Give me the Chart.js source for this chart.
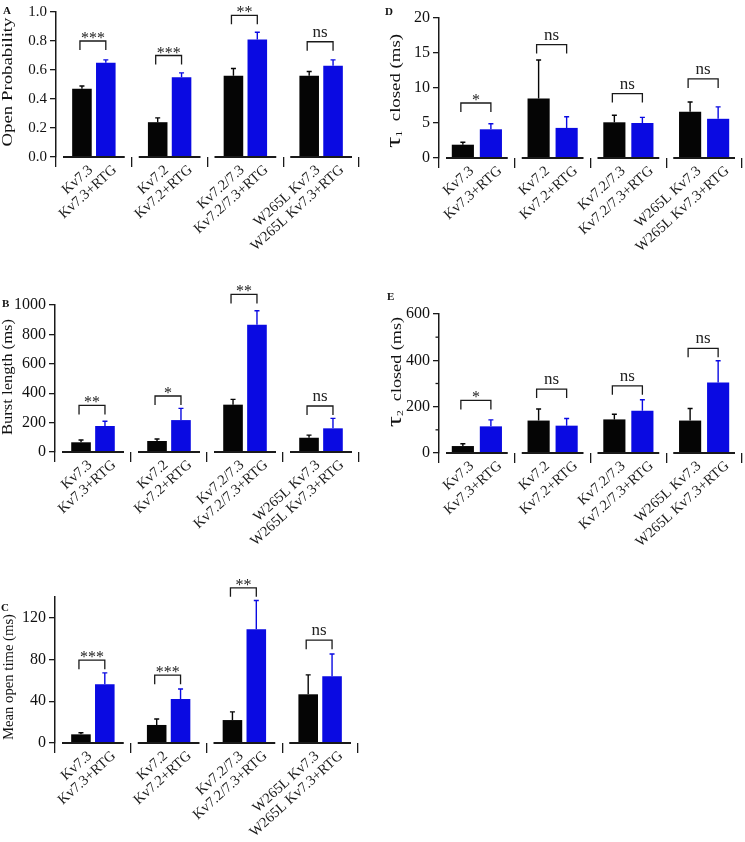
<!DOCTYPE html>
<html>
<head>
<meta charset="utf-8">
<script src="https://cdn.jsdelivr.net/npm/chart.js@4.4.1/dist/chart.umd.min.js"></script>
<style>
  body { margin: 0; background: #fff; width: 745px; height: 842px; position: relative; overflow: hidden; }
  .panel { position: absolute; }
  .letter { position: absolute; font: bold 11px 'Liberation Serif', serif; color: #111; }
</style>
</head>
<body>
<canvas id="pA" class="panel" width="370" height="270" style="left:0;top:0"></canvas>
<canvas id="pB" class="panel" width="370" height="280" style="left:0;top:270px"></canvas>
<canvas id="pC" class="panel" width="370" height="292" style="left:0;top:550px"></canvas>
<canvas id="pD" class="panel" width="375" height="270" style="left:370px;top:0"></canvas>
<canvas id="pE" class="panel" width="375" height="290" style="left:370px;top:270px"></canvas>
<div class="letter" style="left:3px;top:4px">A</div>
<div class="letter" style="left:2px;top:297px">B</div>
<div class="letter" style="left:1px;top:601px">C</div>
<div class="letter" style="left:385px;top:5px">D</div>
<div class="letter" style="left:387px;top:290px">E</div>
<script>
'use strict';

const groups = ['Kv7.3', 'Kv7.2', 'Kv7.2/7.3', 'W265L Kv7.3'];
const barLabels = [
  ['Kv7.3', 'Kv7.3+RTG'],
  ['Kv7.2', 'Kv7.2+RTG'],
  ['Kv7.2/7.3', 'Kv7.2/7.3+RTG'],
  ['W265L Kv7.3', 'W265L Kv7.3+RTG'],
];

// A - open probability
const openProb = [0.47, 0.24, 0.56, 0.56];
const openProbErr = [0.02, 0.03, 0.05, 0.03];
const openProbRtg = [0.65, 0.55, 0.81, 0.63];
const openProbRtgErr = [0.02, 0.03, 0.05, 0.04];
const openProbBracket = [0.80, 0.70, 0.977, 0.795];
const openProbSig = ['***', '***', '**', 'ns'];

// B - burst length (ms)
const burst = [66, 75, 322, 97];
const burstErr = [16, 13, 36, 18];
const burstRtg = [177, 217, 866, 161];
const burstRtgErr = [32, 80, 95, 68];
const burstBracket = [317, 381, 1072, 313];
const burstSig = ['**', '*', '**', 'ns'];

// C - mean open time (ms)
const openTime = [8.3, 17.3, 22, 46.7];
const openTimeErr = [1.6, 5.7, 7.8, 18.6];
const openTimeRtg = [56.3, 42.2, 109, 64];
const openTimeRtgErr = [10.9, 9.6, 27.6, 21.4];
const openTimeBracket = [79.4, 65, 148.8, 98.6];
const openTimeSig = ['***', '***', '**', 'ns'];

// D - tau1 closed (ms)
const tau1 = [1.9, 8.5, 5.1, 6.6];
const tau1Err = [0.35, 5.5, 1.0, 1.4];
const tau1Rtg = [4.1, 4.3, 5.0, 5.6];
const tau1RtgErr = [0.8, 1.6, 0.8, 1.7];
const tau1Bracket = [7.86, 16.2, 9.2, 11.3];
const tau1Sig = ['*', 'ns', 'ns', 'ns'];

// E - tau2 closed (ms)
const tau2 = [30, 140, 145, 140];
const tau2Err = [10, 50, 22, 52];
const tau2Rtg = [115, 118, 182, 304];
const tau2RtgErr = [28, 31, 48, 94];
const tau2Bracket = [227, 276, 290, 452];
const tau2Sig = ['*', 'ns', 'ns', 'ns'];

const AXIS = '#1a1a1a';
const BLACK = '#050505';
const BLUE = '#0a0ae2';
const SERIF = "'Liberation Serif', 'Times New Roman', serif";

function isMinor(v, major) {
  return Math.abs(v / major - Math.round(v / major)) > 1e-6;
}

// y title drawn by hand: the figure's lettering is stretched along the axis
function drawYTitle(ctx, p) {
  const parts = p.tau
    ? [['τ', 21], [p.tau, 9], ['  closed (ms)', 14]]
    : [[p.title, 14]];
  let total = 0;
  parts.forEach(([t, sz]) => {
    ctx.font = sz + 'px ' + SERIF;
    total += ctx.measureText(t).width;
  });
  const sx = p.titleLen / total;
  ctx.save();
  ctx.translate(p.titleX, p.titleY);
  ctx.rotate(-Math.PI / 2);
  ctx.scale(sx, 1);
  ctx.fillStyle = '#111';
  ctx.textAlign = 'left';
  ctx.textBaseline = 'alphabetic';
  let x = -total / 2;
  parts.forEach(([t, sz], k) => {
    ctx.font = sz + 'px ' + SERIF;
    const dy = (p.tau && k === 1) ? 2 : 0;
    ctx.fillText(t, x, 5 + dy);
    x += ctx.measureText(t).width;
  });
  ctx.restore();
}

// draws baselines, minor ticks, error bars, brackets and the rotated bar labels
function decorPlugin(p) {
  return {
    id: 'decor',
    afterDatasetsDraw(chart) {
      const ctx = chart.ctx;
      const xs = chart.scales.x;
      const ys = chart.scales.y;
      const m0 = chart.getDatasetMeta(0).data;
      const m1 = chart.getDatasetMeta(1).data;
      const y0 = ys.getPixelForValue(0);
      const half = (xs.getPixelForValue(1) - xs.getPixelForValue(0)) / 2;
      ctx.save();
      ctx.strokeStyle = AXIS;

      // group baselines
      ctx.lineWidth = 2;
      for (let i = 0; i < groups.length; i++) {
        const c = xs.getPixelForValue(i);
        ctx.beginPath();
        ctx.moveTo(c - half + 7, y0);
        ctx.lineTo(c + half - 7, y0);
        ctx.stroke();
      }

      // minor y ticks
      ctx.lineWidth = 1.3;
      ys.ticks.forEach(t => {
        if (isMinor(t.value, p.yMajor)) {
          const py = ys.getPixelForValue(t.value);
          ctx.beginPath();
          ctx.moveTo(ys.right - 3.5, py);
          ctx.lineTo(ys.right, py);
          ctx.stroke();
        }
      });

      // error bars (upper only)
      const sets = [[m0, p.ctrl, p.ctrlErr, BLACK], [m1, p.rtg, p.rtgErr, BLUE]];
      ctx.lineWidth = 1.4;
      sets.forEach(([meta, vals, errs, col]) => {
        ctx.strokeStyle = col;
        meta.forEach((bar, i) => {
          const top = ys.getPixelForValue(vals[i] + errs[i]);
          ctx.beginPath();
          ctx.moveTo(bar.x, bar.y);
          ctx.lineTo(bar.x, top);
          ctx.moveTo(bar.x - 2.5, top);
          ctx.lineTo(bar.x + 2.5, top);
          ctx.stroke();
        });
      });

      // significance brackets
      ctx.strokeStyle = AXIS;
      ctx.fillStyle = '#222';
      ctx.lineWidth = 1.3;
      ctx.textAlign = 'center';
      ctx.textBaseline = 'alphabetic';
      for (let i = 0; i < groups.length; i++) {
        const xl = m0[i].x - 2;
        const xr = m1[i].x;
        const yt = ys.getPixelForValue(p.bracket[i]);
        ctx.beginPath();
        ctx.moveTo(xl, yt + 9);
        ctx.lineTo(xl, yt);
        ctx.lineTo(xr, yt);
        ctx.lineTo(xr, yt + 9);
        ctx.stroke();
        const s = p.sig[i];
        if (s === 'ns') {
          ctx.font = '17px ' + SERIF;
          ctx.fillText(s, (xl + xr) / 2, yt - 5);
        } else {
          ctx.font = '16px ' + SERIF;
          ctx.fillText(s, (xl + xr) / 2, yt + 2);
        }
      }

      // rotated category labels, one under each bar
      ctx.fillStyle = '#1a1a1a';
      ctx.font = '14.5px ' + SERIF;
      ctx.textAlign = 'right';
      ctx.textBaseline = 'middle';
      for (let i = 0; i < groups.length; i++) {
        [m0[i], m1[i]].forEach((bar, k) => {
          ctx.save();
          ctx.translate(bar.x + 9, y0 + 11);
          ctx.rotate(-42 * Math.PI / 180);
          ctx.fillText(barLabels[i][k], 0, 0);
          ctx.restore();
        });
      }

      drawYTitle(ctx, p);
      ctx.restore();
    }
  };
}

function makePanel(id, p) {
  const canvas = document.getElementById(id);
  const W = canvas.width;
  const H = canvas.height;
  return new Chart(canvas, {
    type: 'bar',
    data: {
      labels: groups,
      datasets: [
        { data: p.ctrl, backgroundColor: BLACK, categoryPercentage: p.catPct, barPercentage: p.barPct },
        { data: p.rtg, backgroundColor: BLUE, categoryPercentage: p.catPct, barPercentage: p.barPct },
      ]
    },
    options: {
      responsive: false,
      animation: false,
      layout: {
        padding: { left: 0, top: p.area.top, right: W - p.area.right, bottom: 0 }
      },
      plugins: {
        legend: { display: false },
        tooltip: { enabled: false },
      },
      scales: {
        x: {
          ticks: { display: false },
          border: { display: false },
          grid: {
            display: true,
            drawOnChartArea: false,
            drawTicks: true,
            tickLength: 10,
            color: AXIS,
            lineWidth: 1.3,
          },
          afterFit: (s) => { s.height = H - p.area.bottom; },
        },
        y: {
          min: 0,
          max: p.yMax,
          ticks: {
            stepSize: p.yStep,
            color: '#111',
            padding: 3,
            font: { family: SERIF, size: p.tickSize },
            callback: (v) => {
              if (isMinor(v, p.yMajor)) return '';
              return p.decimals ? Number(v).toFixed(p.decimals) : v;
            },
          },
          grid: {
            drawOnChartArea: false,
            tickLength: 6,
            lineWidth: 1.3,
            tickColor: (c) => {
              const v = c.tick ? c.tick.value : 0;
              return isMinor(v, p.yMajor) ? 'rgba(0,0,0,0)' : AXIS;
            },
          },
          border: { display: true, color: AXIS, width: 1.5 },
          title: { display: false },
          afterFit: (s) => { s.width = p.area.left; },
        }
      }
    },
    plugins: [decorPlugin(p)]
  });
}

const narrow = { catPct: 0.63, barPct: 0.82 };
const wide = { catPct: 0.74, barPct: 0.79 };

makePanel('pA', Object.assign({
  ctrl: openProb, ctrlErr: openProbErr, rtg: openProbRtg, rtgErr: openProbRtgErr,
  bracket: openProbBracket, sig: openProbSig,
  yMax: 1, yStep: 0.2, yMajor: 0.2, decimals: 1, tickSize: 15,
  title: 'Open Probability', titleX: 7, titleY: 82, titleLen: 129,
  area: { left: 56, top: 10, right: 359, bottom: 157 },
}, narrow));

makePanel('pB', Object.assign({
  ctrl: burst, ctrlErr: burstErr, rtg: burstRtg, rtgErr: burstRtgErr,
  bracket: burstBracket, sig: burstSig,
  yMax: 1000, yStep: 200, yMajor: 200, decimals: 0, tickSize: 16,
  title: 'Burst length (ms)', titleX: 7, titleY: 107, titleLen: 116,
  area: { left: 55, top: 35, right: 359, bottom: 182 },
}, narrow));

makePanel('pC', Object.assign({
  ctrl: openTime, ctrlErr: openTimeErr, rtg: openTimeRtg, rtgErr: openTimeRtgErr,
  bracket: openTimeBracket, sig: openTimeSig,
  yMax: 140, yStep: 20, yMajor: 40, decimals: 0, tickSize: 16,
  title: 'Mean open time (ms)', titleX: 7.5, titleY: 127, titleLen: 126,
  area: { left: 55, top: 47, right: 358, bottom: 193 },
}, narrow));

makePanel('pD', Object.assign({
  ctrl: tau1, ctrlErr: tau1Err, rtg: tau1Rtg, rtgErr: tau1RtgErr,
  bracket: tau1Bracket, sig: tau1Sig,
  yMax: 20, yStep: 5, yMajor: 5, decimals: 0, tickSize: 16,
  title: 'τ1 closed (ms)', tau: '1', titleX: 25, titleY: 91, titleLen: 114,
  area: { left: 69, top: 18, right: 372, bottom: 158 },
}, wide));

makePanel('pE', Object.assign({
  ctrl: tau2, ctrlErr: tau2Err, rtg: tau2Rtg, rtgErr: tau2RtgErr,
  bracket: tau2Bracket, sig: tau2Sig,
  yMax: 600, yStep: 100, yMajor: 200, decimals: 0, tickSize: 16,
  title: 'τ2 closed (ms)', tau: '2', titleX: 26, titleY: 102, titleLen: 110,
  area: { left: 69, top: 44, right: 372, bottom: 183 },
}, wide));
</script>
</body>
</html>
